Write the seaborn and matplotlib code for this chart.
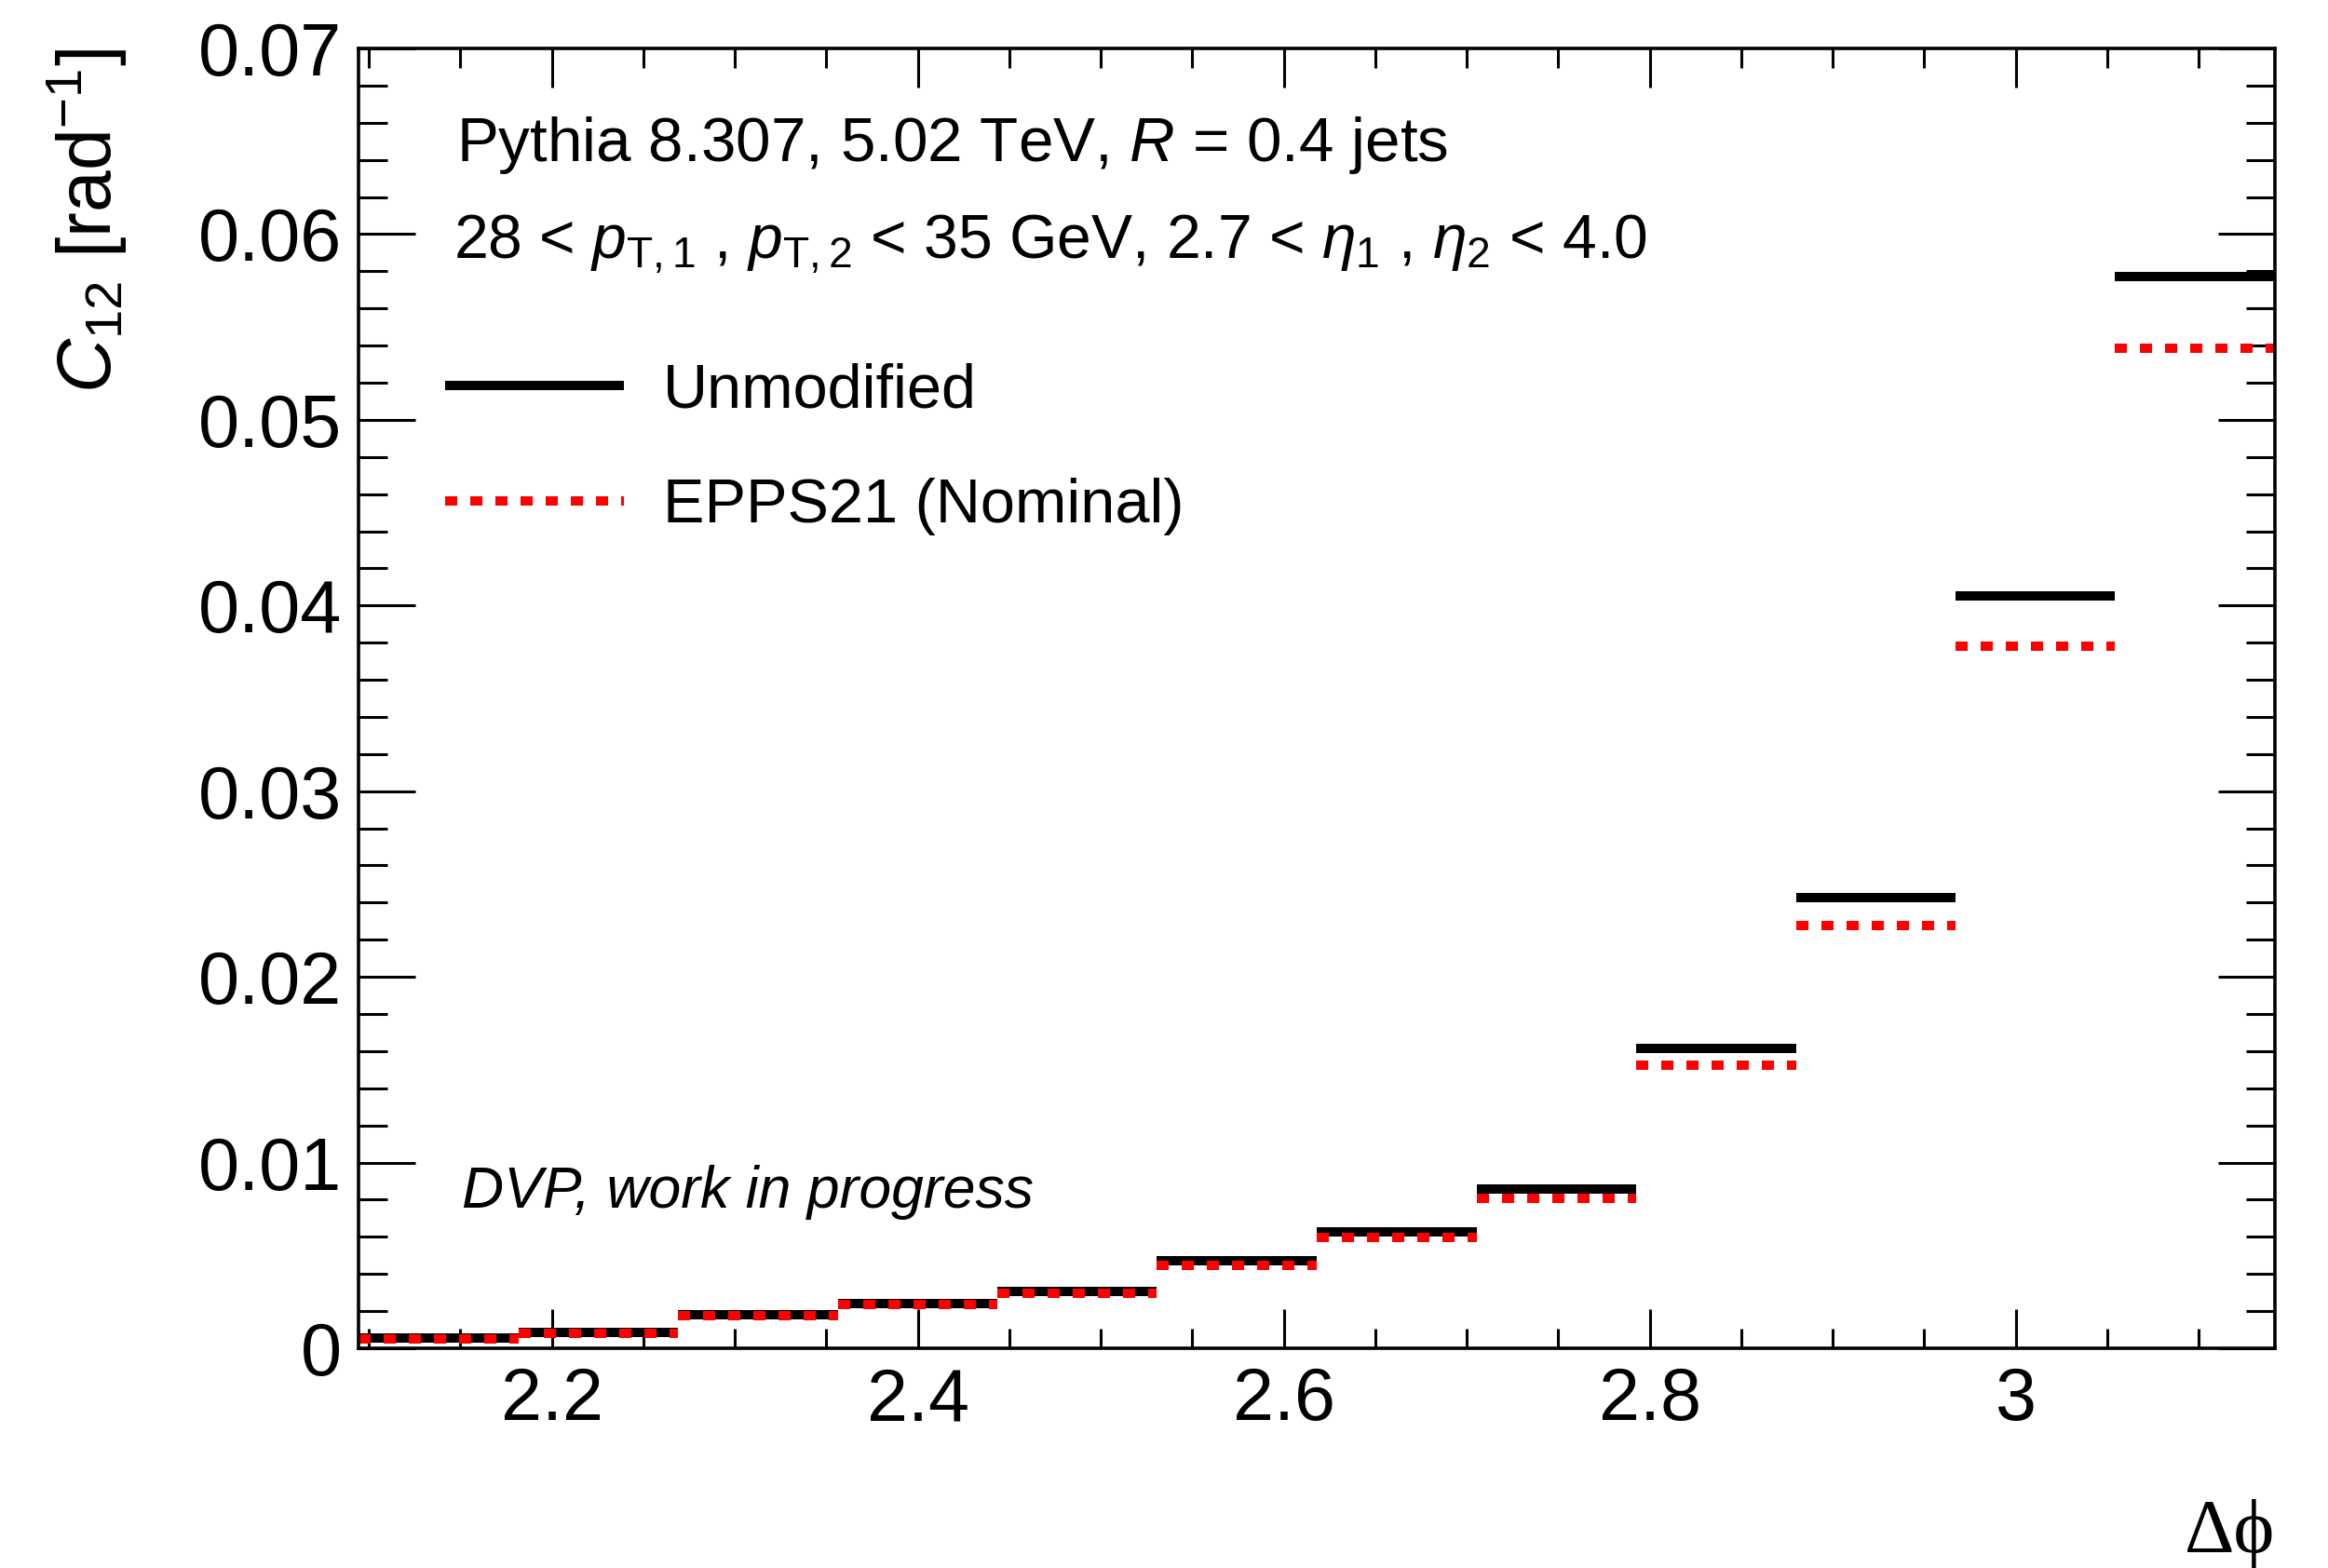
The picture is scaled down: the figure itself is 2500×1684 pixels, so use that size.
import numpy as np
import pandas as pd
import matplotlib
matplotlib.use("Agg")
import matplotlib.pyplot as plt
from matplotlib.ticker import MultipleLocator, FixedLocator
import seaborn as sns

# ---------------- data ----------------
bin_edges = [2.0944, 2.1817, 2.2689, 2.3562, 2.4435, 2.5307, 2.6180,
             2.7053, 2.7925, 2.8798, 2.9671, 3.0543, 3.1416]
unmodified = [0.00055, 0.00085, 0.00180, 0.00240, 0.00308, 0.00470,
              0.00628, 0.00857, 0.01616, 0.02428, 0.04050, 0.05773]
epps21 = [0.00050, 0.00082, 0.00175, 0.00234, 0.00296, 0.00445,
          0.00595, 0.00807, 0.01523, 0.02276, 0.03782, 0.05386]
series_names = ["Unmodified", "EPPS21 (Nominal)"]
x_ticks = [2.2, 2.4, 2.6, 2.8, 3.0]
x_tick_labels = ["2.2", "2.4", "2.6", "2.8", "3"]
y_ticks = [0.0, 0.01, 0.02, 0.03, 0.04, 0.05, 0.06, 0.07]
y_tick_labels = ["0", "0.01", "0.02", "0.03", "0.04", "0.05", "0.06", "0.07"]

rows = []
for name, vals in zip(series_names, [unmodified, epps21]):
    for i, v in enumerate(vals):
        rows.append({"x": bin_edges[i], "y": v, "bin": i, "series": name})
        rows.append({"x": bin_edges[i + 1], "y": v, "bin": i, "series": name})
df = pd.DataFrame(rows)

# ---------------- style ----------------
sns.set_style("ticks")
plt.rcParams["font.family"] = ["Liberation Sans", "DejaVu Sans"]
plt.rcParams["mathtext.fontset"] = "custom"
plt.rcParams["mathtext.rm"] = "Liberation Sans"
plt.rcParams["mathtext.it"] = "Liberation Sans:italic"
plt.rcParams["mathtext.bf"] = "Liberation Sans:bold"
plt.rcParams["text.color"] = "black"
plt.rcParams["axes.labelcolor"] = "black"
plt.rcParams["xtick.color"] = "black"
plt.rcParams["ytick.color"] = "black"
plt.rcParams["xtick.labelcolor"] = "black"
plt.rcParams["ytick.labelcolor"] = "black"
plt.rcParams["lines.solid_capstyle"] = "butt"
plt.rcParams["lines.dash_capstyle"] = "butt"

W, H = 2500, 1684
fig = plt.figure(figsize=(W / 100, H / 100), dpi=100)
L, R, T, B = 385, 2443, 52, 1448
ax = fig.add_axes([L / W, 1 - B / H, (R - L) / W, (B - T) / H])

lw = 7.2
sns.lineplot(data=df, x="x", y="y", hue="series", style="series", units="bin",
             estimator=None, sort=False, ax=ax,
             hue_order=series_names, style_order=series_names,
             palette={"Unmodified": "black", "EPPS21 (Nominal)": "#ff0000"},
             dashes={"Unmodified": "", "EPPS21 (Nominal)": (1.3, 1.4)},
             linewidth=lw)
for ln in ax.get_lines():
    ln.set_solid_capstyle("butt")
    ln.set_dash_capstyle("butt")

ax.set_xlim(bin_edges[0], bin_edges[-1])
ax.set_ylim(0, 0.07)
ax.set_xlabel("")
ax.set_ylabel("")

ax.xaxis.set_major_locator(FixedLocator(x_ticks))
ax.set_xticklabels(x_tick_labels)
ax.xaxis.set_minor_locator(MultipleLocator(0.05))
ax.yaxis.set_major_locator(FixedLocator(y_ticks))
ax.set_yticklabels(y_tick_labels)
ax.yaxis.set_minor_locator(MultipleLocator(0.002))

for s in ax.spines.values():
    s.set_linewidth(2.6)
    s.set_color("black")

ax.tick_params(axis="both", which="both", direction="in", top=True, right=True,
               width=2.2, color="black", labelcolor="black")
ax.tick_params(axis="x", which="major", length=30, labelsize=57, pad=14)
ax.tick_params(axis="x", which="minor", length=15)
ax.tick_params(axis="y", which="major", length=44, labelsize=57, pad=13)
ax.tick_params(axis="y", which="minor", length=22)

# legend
handles, labels = ax.get_legend_handles_labels()
if ax.get_legend() is not None:
    ax.get_legend().remove()
for h in handles:
    h.set_linewidth(lw)
    h.set_solid_capstyle("butt")
    h.set_dash_capstyle("butt")
leg = fig.legend(handles, labels, loc="upper left",
                 bbox_to_anchor=(478 / W, 1 - 389 / H),
                 frameon=False, fontsize=48, handlelength=2.88,
                 handletextpad=0.63, labelspacing=0.93,
                 borderpad=0, borderaxespad=0)
for t in leg.get_texts():
    t.set_color("black")

# texts
fig.text(490 / W, 1 - 173 / H, r"Pythia 8.307, 5.02 TeV, $R$ = 0.4 jets",
         fontsize=48.5, va="baseline", ha="left")
fig.text(487 / W, 1 - 278 / H,
         r"28 < $p_{\mathrm{T,1}}$ , $p_{\mathrm{T,2}}$ < 35 GeV, 2.7 < $\eta_{1}$ , $\eta_{2}$ < 4.0",
         fontsize=47.5, va="baseline", ha="left")
fig.text(496 / W, 1 - 1297 / H, "DVP, work in progress", fontsize=45,
         style="italic", va="baseline", ha="left")

fig.text(93 / W, 1 - 52 / H, r"$C_{\mathrm{12}}$ [rad$^{\mathrm{-1}}$]",
         fontsize=58, rotation=90, ha="center", va="top")
fig.text(2443 / W, 1 - 1667 / H, "\u0394\u03d5", fontsize=60,
         family=["Liberation Serif", "DejaVu Serif"], ha="right", va="baseline")

fig.savefig("out.png", dpi=100)
